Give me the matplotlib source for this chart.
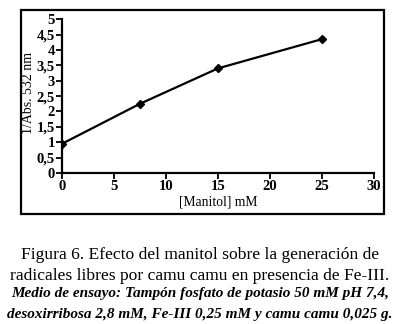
import matplotlib
matplotlib.use("Agg")
import matplotlib.pyplot as plt
from matplotlib.patches import Rectangle
from matplotlib.ticker import FuncFormatter

# data
manitol = [0, 7.5, 15, 25]
inv_abs = [0.95, 2.25, 3.4, 4.35]

x_ticks = [0, 5, 10, 15, 20, 25, 30]
y_ticks = [0, 0.5, 1, 1.5, 2, 2.5, 3, 3.5, 4, 4.5, 5]

caption_1 = "Figura 6. Efecto del manitol sobre la generación de"
caption_2 = "radicales libres por camu camu en presencia de Fe-III."
note_1 = "Medio de ensayo: Tampón fosfato de potasio 50 mM pH 7,4,"
note_2 = "desoxirribosa 2,8 mM, Fe-III 0,25 mM y camu camu 0,025 g."

plt.rcParams['font.family'] = ['Liberation Serif', 'DejaVu Serif']

fig = plt.figure(figsize=(4, 3.24), dpi=100)
ax = fig.add_axes([0.155, 0.466, 0.78, 0.475])

ax.plot(manitol, inv_abs, color='black', lw=1.6, marker='D', ms=4.5)

ax.set_xlim(0, 30)
ax.set_ylim(0, 5)
ax.set_xticks(x_ticks)
ax.set_yticks(y_ticks)
ax.yaxis.set_major_formatter(FuncFormatter(lambda v, p: ('%g' % v).replace('.', ',')))
ax.spines['top'].set_visible(False)
ax.spines['right'].set_visible(False)
for s in ('left', 'bottom'):
    ax.spines[s].set_linewidth(1.6)
ax.tick_params(direction='out', length=4, width=1.3, labelsize=10.5, pad=1)
for lab in ax.get_xticklabels() + ax.get_yticklabels():
    lab.set_fontweight('bold')
ax.set_xlabel('[Manitol] mM', fontsize=9.8, labelpad=2)
ax.set_ylabel('1/Abs. 532 nm', fontsize=10)
ax.yaxis.set_label_coords(-0.088, 0.52)

# frame around the plot
fig.patches.append(Rectangle((0.0525, 0.34), 0.9075, 0.629, transform=fig.transFigure,
                             fill=False, lw=1.6, ec='black'))

fig.text(0.5, 0.2006, caption_1, ha='center', va='baseline', fontsize=12.6)
fig.text(0.5, 0.1358, caption_2, ha='center', va='baseline', fontsize=12.6)
fig.text(0.5, 0.0833, note_1, ha='center', va='baseline', fontsize=11, style='italic', weight='bold')
fig.text(0.5, 0.0185, note_2, ha='center', va='baseline', fontsize=11, style='italic', weight='bold')

fig.savefig('out.png', dpi=100)
